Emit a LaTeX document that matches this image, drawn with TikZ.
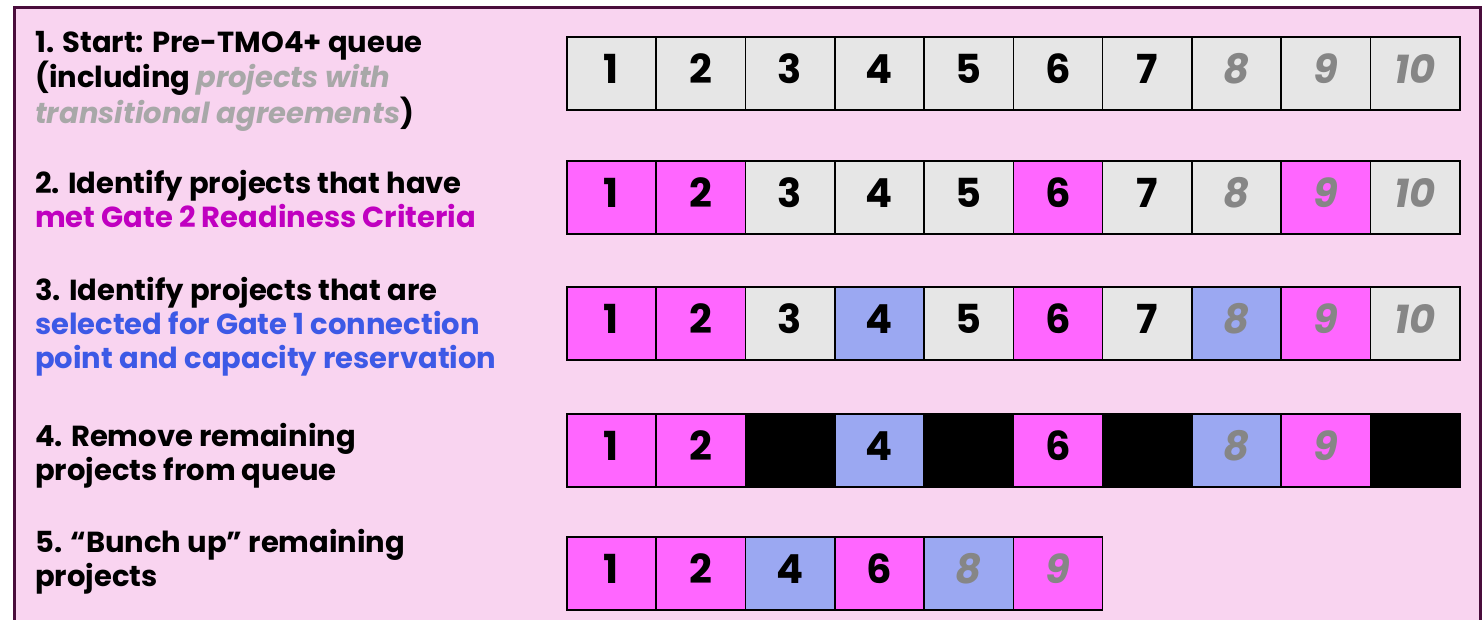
\documentclass[tikz,border=0pt]{standalone}
\usepackage{fontspec}
\setmainfont{Poppins}
\definecolor{bgpink}{HTML}{F9D4F0}
\definecolor{frame}{HTML}{4A0D3C}
\definecolor{cellgray}{HTML}{E6E6E6}
\definecolor{cellmag}{HTML}{FF66FF}
\definecolor{cellblue}{HTML}{9BA8F2}
\definecolor{numgray}{HTML}{868686}
\definecolor{txtgray}{HTML}{A8A8A8}
\definecolor{txtmag}{HTML}{C000C0}
\definecolor{txtblue}{HTML}{3D59E6}
\tikzset{
  x=1pt,y=-1pt,
  cell/.style={draw=black,line width=1.6pt,minimum width=89.3pt,minimum height=73pt,inner sep=0pt,
    text height=28pt,text depth=7pt,
    anchor=north west,font=\fontsize{40}{40}\selectfont\bfseries},
  gr/.style={cell,fill=cellgray},
  mg/.style={cell,fill=cellmag},
  bl/.style={cell,fill=cellblue},
  bk/.style={cell,fill=black},
  steptext/.style={anchor=north west,inner sep=0pt,align=left,font=\fontsize{29}{34}\selectfont\bfseries}
}
\newcommand{\gn}[1]{\textcolor{numgray}{\itshape #1}}
\begin{document}
\begin{tikzpicture}
\useasboundingbox (0,0) rectangle (1484,620);
\fill[white] (0,0) rectangle (1484,620);
\draw[frame,line width=3pt,fill=bgpink] (14,7.5) rectangle (1480,640);

% step texts
\node[steptext] (t1) at (35,31) {1. Start: Pre-TMO4+ queue\\(including \textcolor{txtgray}{\itshape projects with}\\\textcolor{txtgray}{\itshape transitional agreements})};
\node[steptext] (t2) at (35,170) {2. Identify projects that have\\\textcolor{txtmag}{met Gate 2 Readiness Criteria}};
\node[steptext] (t3) at (35,277) {3. Identify projects that are\\\textcolor{txtblue}{selected for Gate 1 connection}\\\textcolor{txtblue}{point and capacity reservation}};
\node[steptext] (t4) at (35,423) {4. Remove remaining\\projects from queue};
\node[steptext] (t5) at (35,529) {5. “Bunch up” remaining\\projects};

% row 1
\foreach \i/\s/\t in {1/gr/1,2/gr/2,3/gr/3,4/gr/4,5/gr/5,6/gr/6,7/gr/7,8/gr/\gn{8},9/gr/\gn{9},10/gr/\gn{10}}
  \node[\s] (a\i) at ({566+(\i-1)*89.3},36) {\t};
% row 2
\foreach \i/\s/\t in {1/mg/1,2/mg/2,3/gr/3,4/gr/4,5/gr/5,6/mg/6,7/gr/7,8/gr/\gn{8},9/mg/\gn{9},10/gr/\gn{10}}
  \node[\s] (b\i) at ({566+(\i-1)*89.3},160) {\t};
% row 3
\foreach \i/\s/\t in {1/mg/1,2/mg/2,3/gr/3,4/bl/4,5/gr/5,6/mg/6,7/gr/7,8/bl/\gn{8},9/mg/\gn{9},10/gr/\gn{10}}
  \node[\s] (c\i) at ({566+(\i-1)*89.3},286) {\t};
% row 4
\foreach \i/\s/\t in {1/mg/1,2/mg/2,3/bk/{},4/bl/4,5/bk/{},6/mg/6,7/bk/{},8/bl/\gn{8},9/mg/\gn{9},10/bk/{}}
  \node[\s] (d\i) at ({566+(\i-1)*89.3},413) {\t};
% row 5
\foreach \i/\s/\t in {1/mg/1,2/mg/2,3/bl/4,4/mg/6,5/bl/\gn{8},6/mg/\gn{9}}
  \node[\s] (e\i) at ({566+(\i-1)*89.3},536) {\t};
\end{tikzpicture}
\end{document}
